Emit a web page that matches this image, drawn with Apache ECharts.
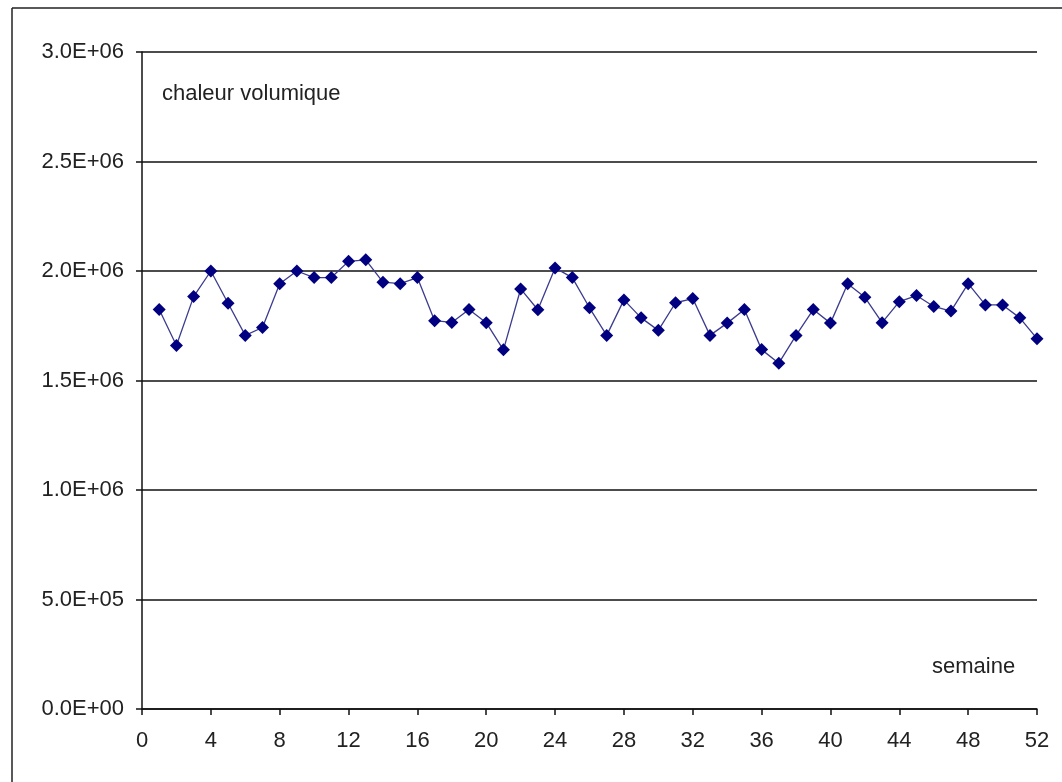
<!DOCTYPE html>
<html>
<head>
<meta charset="utf-8">
<script src="https://cdn.jsdelivr.net/npm/echarts@6/dist/echarts.min.js"></script>
<style>
html,body{margin:0;padding:0;background:#fff;}
#chart{width:1062px;height:782px;}
</style>
</head>
<body>
<div id="chart"></div>
<script>
const weeks = [1,2,3,4,5,6,7,8,9,10,11,12,13,14,15,16,17,18,19,20,21,22,23,24,25,26,27,28,29,30,31,32,33,34,35,36,37,38,39,40,41,42,43,44,45,46,47,48,49,50,51,52];
const chaleurVolumique = [
  1.824e6,1.660e6,1.883e6,2.000e6,1.853e6,1.706e6,1.742e6,1.942e6,2.000e6,1.970e6,
  1.970e6,2.044e6,2.051e6,1.949e6,1.942e6,1.970e6,1.773e6,1.765e6,1.824e6,1.764e6,
  1.640e6,1.918e6,1.823e6,2.014e6,1.970e6,1.832e6,1.706e6,1.868e6,1.786e6,1.729e6,
  1.855e6,1.874e6,1.706e6,1.762e6,1.824e6,1.641e6,1.579e6,1.706e6,1.824e6,1.762e6,
  1.942e6,1.880e6,1.764e6,1.860e6,1.888e6,1.838e6,1.817e6,1.942e6,1.845e6,1.845e6,
  1.786e6,1.691e6
];
const seriesLabel = 'chaleur volumique';
const xAxisTitle = 'semaine';

function sci(v){
  if (v === 0) return '0.0E+00';
  const e = Math.floor(Math.log10(Math.abs(v)));
  const m = v / Math.pow(10, e);
  const es = (e < 0 ? '-' : '+') + String(Math.abs(e)).padStart(2, '0');
  return m.toFixed(1) + 'E' + es;
}

const chart = echarts.init(document.getElementById('chart'));
const font = '"Liberation Sans", Arial, sans-serif';
chart.setOption({
  animation: false,
  backgroundColor: '#fff',
  grid: { left: 142, right: 25, top: 52, bottom: 73 },
  xAxis: {
    type: 'value', min: 0, max: 52, interval: 4,
    axisLine: { show: true, lineStyle: { color: '#111', width: 1.5 } },
    axisTick: { show: true, inside: false, length: 6, lineStyle: { color: '#111', width: 1.5 } },
    axisLabel: { color: '#222', fontSize: 22, fontFamily: font, margin: 21 },
    splitLine: { show: false }
  },
  yAxis: {
    type: 'value', min: 0, max: 3e6, interval: 5e5,
    axisLine: { show: true, lineStyle: { color: '#111', width: 1.5 } },
    axisTick: { show: true, inside: false, length: 6, lineStyle: { color: '#111', width: 1.5 } },
    axisLabel: { color: '#222', fontSize: 22, fontFamily: font, margin: 18, formatter: sci },
    splitLine: { show: true, lineStyle: { color: '#111', width: 1.5 } }
  },
  graphic: [
    { type: 'line', shape: { x1: 12, y1: 8, x2: 1062, y2: 8 }, style: { stroke: '#222', lineWidth: 1.5 } },
    { type: 'line', shape: { x1: 12, y1: 8, x2: 12, y2: 782 }, style: { stroke: '#222', lineWidth: 1.5 } },
    { type: 'text', x: 162, y: 94, style: { text: seriesLabel, font: '22px ' + font, fill: '#222', verticalAlign: 'middle', align: 'left' } },
    { type: 'text', x: 932, y: 667, style: { text: xAxisTitle, font: '22px ' + font, fill: '#222', verticalAlign: 'middle', align: 'left' } }
  ],
  series: [{
    type: 'line',
    data: weeks.map((w, i) => [w, chaleurVolumique[i]]),
    symbol: 'diamond',
    symbolSize: 13,
    itemStyle: { color: '#000080' },
    lineStyle: { color: '#3b3b8f', width: 1.3 }
  }]
});
</script>
</body>
</html>
